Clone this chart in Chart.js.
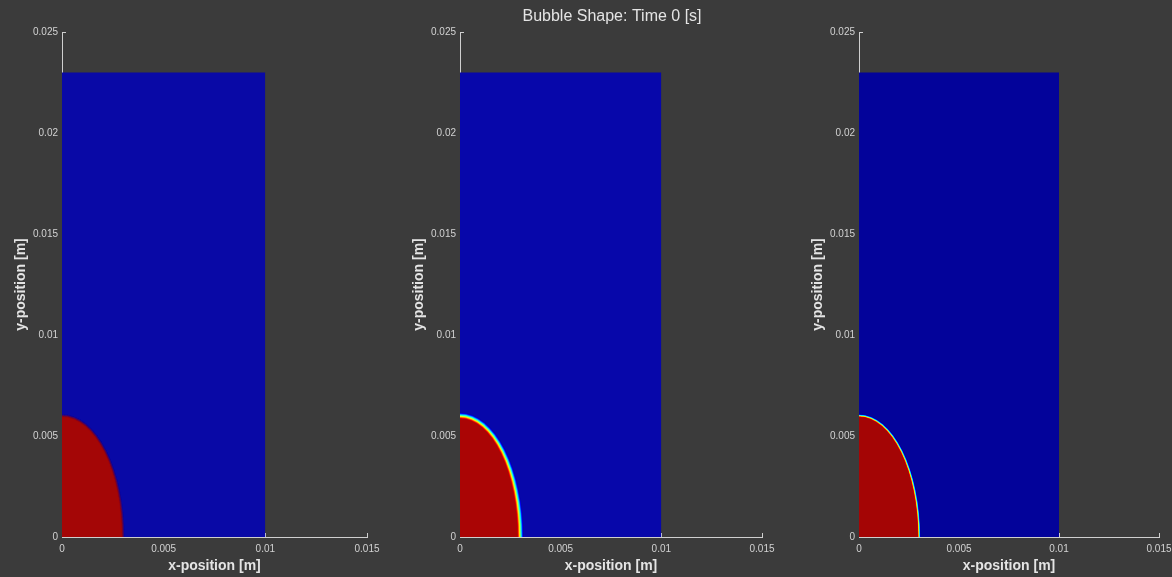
<!DOCTYPE html>
<html>
<head>
<meta charset="utf-8">
<script src="https://cdn.jsdelivr.net/npm/chart.js@4.4.1/dist/chart.umd.min.js"></script>
<style>
  html, body { margin: 0; padding: 0; background: #3b3b3b; overflow: hidden; }
  #figure { position: relative; width: 1172px; height: 577px; }
  #figure canvas { position: absolute; top: 0; }
</style>
</head>
<body>
<div id="figure">
  <canvas id="panel0"></canvas>
  <canvas id="panel1"></canvas>
  <canvas id="panel2"></canvas>
</div>
<script>
// ---- data ----
const figureTitle = 'Bubble Shape: Time 0 [s]';
const xAxisTitle = 'x-position [m]';
const yAxisTitle = 'y-position [m]';

const xTicks = [0, 0.005, 0.01, 0.015];
const xTickLabels = ['0', '0.005', '0.01', '0.015'];
const yTicks = [0, 0.005, 0.01, 0.015, 0.02, 0.025];
const yTickLabels = ['0', '0.005', '0.01', '0.015', '0.02', '0.025'];

// computational domain of each panel [m]
const domainWidth = [0.01, 0.01, 0.01];
const domainHeight = [0.023, 0.023, 0.023];

// initial bubble (quarter ellipse centred at the origin) [m]
const bubbleRadiusX = [0.003, 0.003, 0.003];
const bubbleRadiusY = [0.006, 0.006, 0.006];
// thickness of the diffuse interface [m]
const interfaceWidth = [0.00014, 0.0003, 0.00014];
const interfaceKind = ['blend', 'jet', 'jet'];

// ---- styling ----
const FONT = "'Liberation Sans', Arial, sans-serif";
const TEXT = '#e4e4e4';
const TICK_TEXT = '#d2d2d2';
const AXIS = '#cfcfcf';
const liquidColor = ['#0909a6', '#0707aa', '#03039a'];
const gasColor = ['#a40606', '#aa0505', '#a40505'];
const panelBoxes = [
  { left: 0,   width: 398, padRight: 31 },
  { left: 398, width: 398, padRight: 34 },
  { left: 797, width: 375, padRight: 13 }
];
const X_MAX = 0.015, Y_MAX = 0.025;

function hexToRgb(h) {
  const n = parseInt(h.slice(1), 16);
  return [(n >> 16) & 255, (n >> 8) & 255, n & 255];
}
function mixStops(stops, t) {
  for (let k = 1; k < stops.length; k++) {
    if (t <= stops[k][0]) {
      const [t0, c0] = stops[k - 1], [t1, c1] = stops[k];
      const f = (t - t0) / (t1 - t0);
      const a = hexToRgb(c0), b = hexToRgb(c1);
      return 'rgb(' + a.map((v, j) => Math.round(v + (b[j] - v) * f)).join(',') + ')';
    }
  }
  return stops[stops.length - 1][1];
}
function interfaceColor(i, t) {
  if (interfaceKind[i] === 'jet') {
    return mixStops([
      [0, liquidColor[i]], [0.12, '#0000ff'], [0.37, '#00ffff'],
      [0.5, '#80ff80'], [0.63, '#ffff00'], [0.88, '#ff0000'], [1, gasColor[i]]
    ], t);
  }
  return mixStops([[0, liquidColor[i]], [1, gasColor[i]]], t);
}

// axes, inward tick marks, bubble and title
const fieldPlugin = {
  id: 'field',
  beforeDatasetsDraw(chart, args, opts) {
    const { ctx, scales: { x, y } } = chart;
    const x0 = x.getPixelForValue(0), y0 = y.getPixelForValue(0);
    ctx.save();
    ctx.strokeStyle = AXIS;
    ctx.lineWidth = 1;
    ctx.beginPath();
    ctx.moveTo(x0 + 0.5, y.getPixelForValue(Y_MAX));
    ctx.lineTo(x0 + 0.5, y0);
    yTicks.forEach(v => {
      const p = Math.round(y.getPixelForValue(v)) + 0.5;
      ctx.moveTo(x0, p); ctx.lineTo(x0 + 4, p);
    });
    xTicks.forEach(v => {
      const p = Math.round(x.getPixelForValue(v)) + 0.5;
      ctx.moveTo(p, y0); ctx.lineTo(p, y0 - 4);
    });
    ctx.stroke();
    ctx.restore();
  },
  afterDatasetsDraw(chart, args, opts) {
    const { ctx, scales: { x, y } } = chart;
    const i = opts.index;
    const cx = x.getPixelForValue(0), cy = y.getPixelForValue(0);
    const px = v => x.getPixelForValue(v) - cx;
    const py = v => cy - y.getPixelForValue(v);
    ctx.save();
    ctx.beginPath();
    ctx.rect(cx, cy - py(domainHeight[i]), px(domainWidth[i]), py(domainHeight[i]));
    ctx.clip();
    const w = interfaceWidth[i], N = 40;
    for (let k = 0; k <= N; k++) {
      const t = k / N, d = w * (0.5 - t);
      ctx.fillStyle = interfaceColor(i, t);
      ctx.beginPath();
      ctx.ellipse(cx, cy, px(bubbleRadiusX[i] + d), py(bubbleRadiusY[i] + d), 0, 0, Math.PI * 2);
      ctx.fill();
    }
    ctx.restore();

    // bottom axis line on top of the field
    ctx.save();
    ctx.strokeStyle = AXIS;
    ctx.lineWidth = 1.2;
    ctx.beginPath();
    ctx.moveTo(cx, Math.round(cy) + 0.5);
    ctx.lineTo(x.getPixelForValue(X_MAX) + 1, Math.round(cy) + 0.5);
    ctx.stroke();
    ctx.restore();

    if (opts.title) {
      ctx.save();
      ctx.fillStyle = TEXT;
      ctx.font = '16px ' + FONT;
      ctx.textAlign = 'center';
      ctx.textBaseline = 'middle';
      ctx.fillText(opts.title, opts.titleX, 17);
      ctx.restore();
    }
  }
};

panelBoxes.forEach((box, i) => {
  const canvas = document.getElementById('panel' + i);
  canvas.width = box.width;
  canvas.height = 577;
  canvas.style.left = box.left + 'px';
  canvas.style.width = box.width + 'px';
  canvas.style.height = '577px';

  new Chart(canvas, {
    type: 'line',
    data: {
      datasets: [{
        data: [{ x: 0, y: domainHeight[i] }, { x: domainWidth[i], y: domainHeight[i] }],
        fill: 'origin',
        backgroundColor: liquidColor[i],
        borderWidth: 0,
        pointRadius: 0,
        tension: 0
      }]
    },
    options: {
      responsive: false,
      animation: false,
      devicePixelRatio: 1,
      layout: { padding: { top: 32, right: box.padRight, bottom: 0, left: 0 } },
      plugins: {
        legend: { display: false },
        tooltip: { enabled: false },
        field: {
          index: i,
          title: i === 1 ? figureTitle : null,
          titleX: 612 - box.left
        }
      },
      scales: {
        x: {
          type: 'linear', min: 0, max: X_MAX,
          grid: { display: false, drawTicks: false },
          border: { display: false },
          afterBuildTicks: s => { s.ticks = xTicks.map(v => ({ value: v })); },
          ticks: {
            color: TICK_TEXT, padding: 6, maxRotation: 0, autoSkip: false,
            font: { family: FONT, size: 10 },
            callback: (v, k) => xTickLabels[k]
          },
          title: {
            display: true, text: xAxisTitle, color: TEXT,
            font: { family: FONT, size: 14, weight: 'bold' },
            padding: { top: 0, bottom: 2 }
          },
          afterFit: s => { s.height = 40; s.paddingLeft = 0; s.paddingRight = 0; }
        },
        y: {
          type: 'linear', min: 0, max: Y_MAX,
          grid: { display: false, drawTicks: false },
          border: { display: false },
          afterBuildTicks: s => { s.ticks = yTicks.map(v => ({ value: v })); },
          ticks: {
            color: TICK_TEXT, padding: 4, autoSkip: false,
            font: { family: FONT, size: 10 },
            callback: (v, k) => yTickLabels[k]
          },
          title: {
            display: true, text: yAxisTitle, color: TEXT,
            font: { family: FONT, size: 14, weight: 'bold' },
            padding: { top: 13, bottom: 0 }
          },
          afterFit: s => { s.width = 62; s.paddingTop = 0; s.paddingBottom = 0; }
        }
      }
    },
    plugins: [fieldPlugin]
  });
});
</script>
</body>
</html>
